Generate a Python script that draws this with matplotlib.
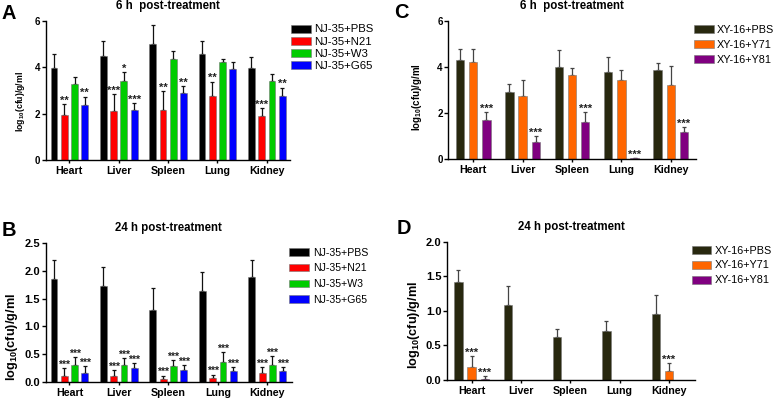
import matplotlib
matplotlib.use('Agg')
import matplotlib.pyplot as plt
import numpy as np

plt.rcParams['font.family'] = ['Liberation Sans', 'DejaVu Sans']
plt.rcParams['mathtext.fontset'] = 'custom'
plt.rcParams['mathtext.rm'] = 'Liberation Sans:bold'
plt.rcParams['mathtext.bf'] = 'Liberation Sans:bold'
plt.rcParams['mathtext.default'] = 'bf'

organs = ['Heart', 'Liver', 'Spleen', 'Lung', 'Kidney']

# ---- Panel A: 6 h, NJ-35 ----
a_labels = ['NJ-35+PBS', 'NJ-35+N21', 'NJ-35+W3', 'NJ-35+G65']
a_pbs = [3.96, 4.47, 4.98, 4.55, 3.96]
a_pbs_err = [0.60, 0.67, 0.85, 0.59, 0.47]
a_n21 = [1.93, 2.13, 2.17, 2.75, 1.88]
a_n21_err = [0.49, 0.72, 0.81, 0.63, 0.35]
a_w3 = [3.29, 3.41, 4.33, 4.22, 3.42]
a_w3_err = [0.29, 0.39, 0.35, 0.15, 0.29]
a_g65 = [2.35, 2.14, 2.89, 3.90, 2.76]
a_g65_err = [0.38, 0.32, 0.28, 0.30, 0.36]
a_pbs_sig = ['', '', '', '', '']
a_n21_sig = ['**', '***', '**', '**', '***']
a_w3_sig = ['', '*', '', '', '']
a_g65_sig = ['**', '***', '**', '', '**']
a_yticks = [0, 2, 4, 6]

# ---- Panel B: 24 h, NJ-35 ----
b_pbs = [1.86, 1.73, 1.30, 1.64, 1.90]
b_pbs_err = [0.33, 0.35, 0.40, 0.34, 0.29]
b_n21 = [0.11, 0.10, 0.04, 0.07, 0.15]
b_n21_err = [0.13, 0.11, 0.07, 0.06, 0.11]
b_w3 = [0.31, 0.30, 0.28, 0.36, 0.31]
b_w3_err = [0.13, 0.12, 0.11, 0.17, 0.15]
b_g65 = [0.16, 0.24, 0.21, 0.20, 0.20]
b_g65_err = [0.12, 0.10, 0.09, 0.06, 0.06]
b_pbs_sig = ['', '', '', '', '']
b_n21_sig = ['***'] * 5
b_w3_sig = ['***'] * 5
b_g65_sig = ['***'] * 5
b_yticks = [0.0, 0.5, 1.0, 1.5, 2.0, 2.5]

# ---- Panel C: 6 h, XY-16 ----
c_labels = ['XY-16+PBS', 'XY-16+Y71', 'XY-16+Y81']
c_pbs = [4.28, 2.91, 4.00, 3.78, 3.87]
c_pbs_err = [0.51, 0.33, 0.74, 0.63, 0.28]
c_y71 = [4.19, 2.73, 3.64, 3.42, 3.20]
c_y71_err = [0.60, 0.67, 0.29, 0.45, 0.81]
c_y81 = [1.70, 0.71, 1.61, 0.03, 1.16]
c_y81_err = [0.34, 0.28, 0.43, 0.01, 0.22]
c_pbs_sig = ['', '', '', '', '']
c_y71_sig = ['', '', '', '', '']
c_y81_sig = ['***'] * 5
c_yticks = [0, 2, 4, 6]

# ---- Panel D: 24 h, XY-16 ----
d_pbs = [1.41, 1.09, 0.62, 0.71, 0.95]
d_pbs_err = [0.18, 0.27, 0.12, 0.14, 0.28]
d_y71 = [0.19, 0.0, 0.0, 0.0, 0.13]
d_y71_err = [0.15, 0.0, 0.0, 0.0, 0.12]
d_y81 = [0.02, 0.0, 0.0, 0.0, 0.0]
d_y81_err = [0.04, 0.0, 0.0, 0.0, 0.0]
d_pbs_sig = ['', '', '', '', '']
d_y71_sig = ['***', '', '', '', '***']
d_y81_sig = ['***', '', '', '', '']
d_yticks = [0.0, 0.5, 1.0, 1.5, 2.0]

nj_colors = ['#000000', '#ff0000', '#00cc00', '#0000ff']
xy_colors = ['#28280f', '#ff6600', '#800080']

W, H = 778, 399
fig = plt.figure(figsize=(W / 100, H / 100), dpi=100)


def px_axes(left, right, top, bottom):
    return fig.add_axes([left / W, 1 - bottom / H, (right - left) / W, (bottom - top) / H])


def panel(ax, vals, errs, sigs, labels, colors, width, pitch, xlim, yticks, yfmt,
          title, tick_fs, ylab_fs, ylab_x, ylab_y, ecolor, sig_fs):
    x = np.arange(len(organs))
    n = len(vals)
    for i in range(n):
        v = np.array(vals[i], float)
        e = np.array(errs[i], float)
        xs = x + (i - (n - 1) / 2) * pitch
        ax.bar(xs, v, width, color=colors[i], edgecolor='#777777', linewidth=0.4,
               label=labels[i], zorder=2)
        m = e > 0
        ax.errorbar(xs[m], v[m], yerr=[np.zeros(m.sum()), e[m]], fmt='none',
                    ecolor=ecolor, elinewidth=0.9, capsize=1.7, capthick=0.9, zorder=1)
        for xi, vi, ei, s in zip(xs, v, e, sigs[i]):
            if s:
                ax.annotate(s, (xi, vi + ei), xytext=(0, 0.2), textcoords='offset points',
                            ha='center', va='baseline', fontsize=sig_fs, fontweight='bold',
                            color='#222222')
    ax.set_xlim(*xlim)
    ax.set_ylim(yticks[0], yticks[-1])
    ax.set_yticks(yticks)
    ax.set_yticklabels([yfmt.format(t) for t in yticks], fontweight='bold', fontsize=tick_fs)
    ax.set_xticks(x)
    ax.set_xticklabels(organs, fontweight='bold', fontsize=7.7)
    for s in ['top', 'right']:
        ax.spines[s].set_visible(False)
    for s in ['left', 'bottom']:
        ax.spines[s].set_linewidth(1.0)
    ax.tick_params(axis='y', length=3, width=1.0, pad=1)
    ax.tick_params(axis='x', length=2.5, width=1.0, pad=2)
    ax.set_title(title, fontsize=8.3, fontweight='bold', pad=8.6)
    ax.set_ylabel(r'log$_{10}$(cfu)/g/ml', fontsize=ylab_fs, fontweight='bold')
    ax.yaxis.set_label_coords(ylab_x, ylab_y)


axA = px_axes(45.7, 290, 20.7, 160)
panel(axA, [a_pbs, a_n21, a_w3, a_g65], [a_pbs_err, a_n21_err, a_w3_err, a_g65_err],
      [a_pbs_sig, a_n21_sig, a_w3_sig, a_g65_sig], a_labels, nj_colors,
      0.139, 0.208, (-0.48, 4.47), a_yticks, '{:.0f}', '6 h  post-treatment',
      7, 6.3, -0.078, 0.42, '#111111', 8)
axA.legend(loc='upper left', bbox_to_anchor=(291 / W, 1 - 24.5 / H), bbox_transform=fig.transFigure,
           frameon=False, fontsize=8.2, handlelength=1.75, handleheight=0.7, handletextpad=0.25,
           labelspacing=0.2, borderpad=0, borderaxespad=0)

axB = px_axes(45.7, 292, 243.3, 381.7)
panel(axB, [b_pbs, b_n21, b_w3, b_g65], [b_pbs_err, b_n21_err, b_w3_err, b_g65_err],
      [b_pbs_sig, b_n21_sig, b_w3_sig, b_g65_sig], a_labels, nj_colors,
      0.139, 0.208, (-0.48, 4.5), b_yticks, '{:.1f}', '24 h post-treatment',
      8, 9.2, -0.105, 0.32, '#111111', 7.6)
axB.legend(loc='upper left', bbox_to_anchor=(289 / W, 1 - 247.5 / H), bbox_transform=fig.transFigure,
           frameon=False, fontsize=7.6, handlelength=1.9, handleheight=0.75, handletextpad=0.35,
           labelspacing=0.55, borderpad=0, borderaxespad=0)

axC = px_axes(448.3, 696, 20.7, 158.7)
panel(axC, [c_pbs, c_y71, c_y81], [c_pbs_err, c_y71_err, c_y81_err],
      [c_pbs_sig, c_y71_sig, c_y81_sig], c_labels, xy_colors,
      0.17, 0.267, (-0.506, 4.51), c_yticks, '{:.0f}', '6 h  post-treatment',
      7, 7, -0.10, 0.45, '#444444', 8)
axC.legend(loc='upper left', bbox_to_anchor=(694 / W, 1 - 25 / H), bbox_transform=fig.transFigure,
           frameon=False, fontsize=7.8, handlelength=1.8, handleheight=0.75, handletextpad=0.3,
           labelspacing=0.45, borderpad=0, borderaxespad=0)

axD = px_axes(447, 695, 241.7, 380)
panel(axD, [d_pbs, d_y71, d_y81], [d_pbs_err, d_y71_err, d_y81_err],
      [d_pbs_sig, d_y71_sig, d_y81_sig], c_labels, xy_colors,
      0.17, 0.267, (-0.50, 4.53), d_yticks, '{:.1f}', '24 h post-treatment',
      8, 9.2, -0.102, 0.40, '#444444', 8)
axD.legend(loc='upper left', bbox_to_anchor=(691.7 / W, 1 - 245.5 / H), bbox_transform=fig.transFigure,
           frameon=False, fontsize=7.8, handlelength=1.8, handleheight=0.75, handletextpad=0.3,
           labelspacing=0.46, borderpad=0, borderaxespad=0)

for lab, xp, yp in [('A', 1.7, 19.3), ('B', 1.7, 236), ('C', 394, 18.5), ('D', 396.7, 234)]:
    fig.text(xp / W, 1 - yp / H, lab, fontsize=14.4, fontweight='bold', ha='left', va='baseline')

fig.savefig('out.png', dpi=100)
